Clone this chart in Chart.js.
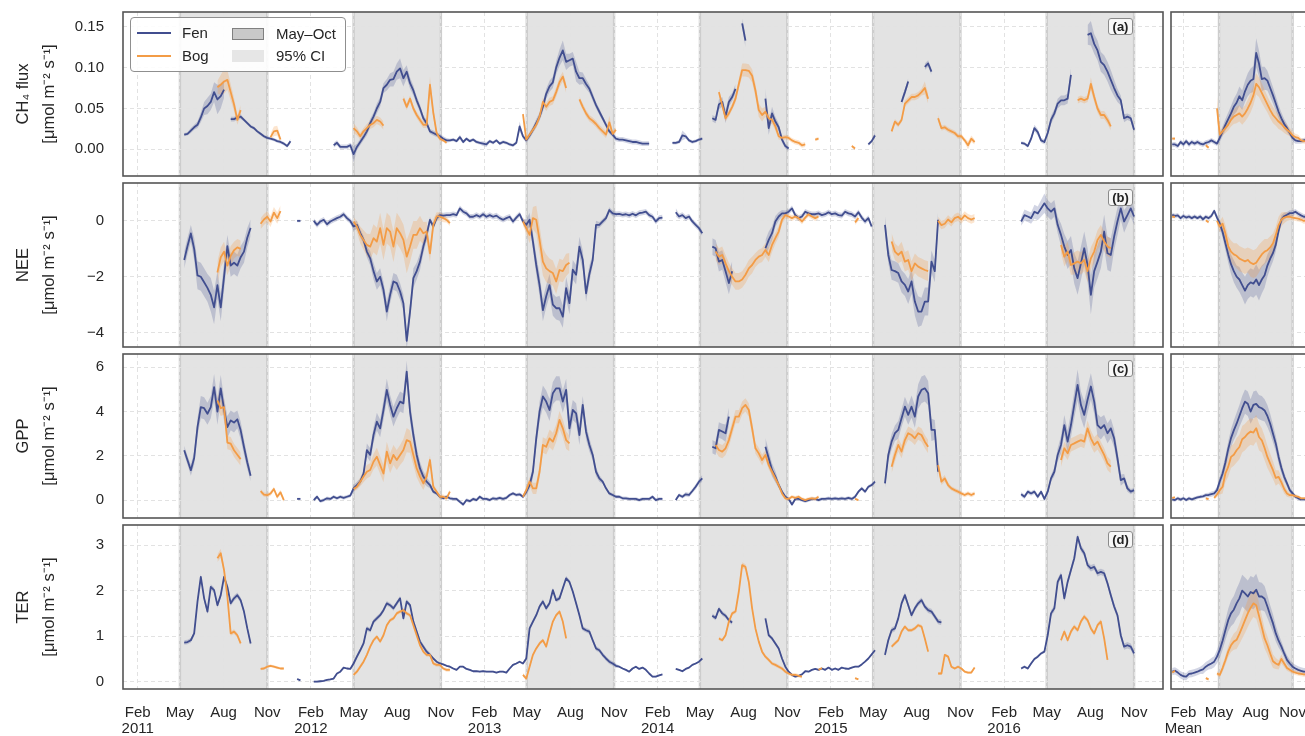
<!DOCTYPE html>
<html>
<head>
<meta charset="utf-8">
<script src="https://cdn.jsdelivr.net/npm/chart.js@4.4.1/dist/chart.umd.min.js"></script>
<style>
  html, body { margin: 0; padding: 0; background: #fff; overflow: hidden; width: 1305px; height: 736px; }
  #fig { position: relative; width: 1305px; height: 736px; overflow: hidden;
         font-family: "Liberation Sans", Arial, Helvetica, sans-serif; color: #262626; }
  #fig canvas { position: absolute; }
  .ov { position: absolute; box-sizing: border-box; }
  .lg-text { position: absolute; font-size: 15px; line-height: 18px; white-space: nowrap; color: #262626; }
  .tag { position: absolute; box-sizing: border-box; width: 25px; height: 17px; border: 1px solid #8a8a8a;
         border-radius: 3px; background: #f7f7f7; font-weight: bold; font-size: 13px; line-height: 15px;
         text-align: center; color: #222; }
</style>
</head>
<body>
<div id="fig"></div>
<script>
const _ = null;

// ---- weekly series: [first week, values]; week k is centred on day 7k+3 after 1 Jan 2011 ----
const fenCH4 = [
  [18, [0.018,0.019,0.023,0.027,0.030,0.039,0.050,0.053,0.058,0.070,0.061,0.065,0.073]],
  [32, [0.037,0.037,0.039,0.040,0.036,0.032,0.028,0.026,0.022,0.019,0.016,0.014,0.013,0.012,0.010,0.009,0.007,0.004,0.010]],
  [63, [0.005,0.008,0.003,0.003,0.003,0.005,
        -0.006,
        0.003,0.009,0.015,0.022,0.032,0.040,
        0.050,0.058,0.075,0.079,0.085,0.086,0.095,
        0.099,0.087,0.095,0.081,0.072,0.060,0.050,
        0.038,0.032,0.022,0.020,0.018,0.016,0.013,0.011,
        0.011,0.012,0.010,0.015,0.009,0.013,0.010,0.012,0.009,0.008,0.007,0.006,0.010,0.008,0.011,0.007,0.009,0.008,0.006,0.005,0.008,
        0.028,
        0.016,0.011,0.017,0.024,0.032,0.040,
        0.052,0.068,0.077,0.082,0.100,0.112,0.121,0.107,0.109,0.111,
        0.095,0.087,0.087,0.080,0.074,0.064,0.054,0.046,
        0.038,0.030,0.022,0.018,0.013,0.012,0.012,0.011,0.010,0.009,0.009,0.008,0.007,0.007,0.007]],
  [165, [0.008,0.008,0.009,0.017,0.016,0.011,0.009,0.010,0.012,0.013]],
  [177, [0.038,0.036,0.055,0.058,0.040,0.058,0.064,0.074]],
  [186, [0.154,0.133]],
  [193, [0.062,0.026,0.044,0.034,0.027,0.012,0.004,0.001]],
  [224, [0.006,0.010,0.017]],
  [234, [0.058,0.070,0.083]],
  [241, [0.101,0.105,0.095]],
  [270, [0.008,0.007,0.004,0.013,0.026,0.021,0.011,0.009,0.020,0.036,0.044,0.056,0.060,0.060,0.062,0.091]],
  [290, [0.140,0.142,0.129,0.121,0.107,0.103,0.095,0.085,0.075,0.066,0.060,0.038,0.040,0.038,0.024]]
];
const fenCH4ci = [
  [0.002,0.002,0.003,0.003,0.004,0.006,0.008,0.010,0.010,0.012,0.018,0.015,0.010],
  [0.003,0.003,0.003,0.003,0.002,0.002,0.002,0.002,0.002,0.002,0.002,0.002,0.002,0.002,0.002,0.002,0.002,0.002,0.003],
  [0.003,0.003,0.003,0.003,0.003,0.003,
   0.010,
   0.004,0.004,0.004,0.005,0.005,0.005,
   0.006,0.006,0.006,0.007,0.008,0.009,0.010,
   0.012,0.010,0.008,0.007,0.006,0.005,0.005,
   0.004,0.004,0.003,0.003,0.003,0.003,0.003,0.003,
   0.002,0.002,0.002,0.003,0.002,0.002,0.002,0.002,0.002,0.002,0.003,0.003,0.002,0.002,0.002,0.002,0.002,0.002,0.002,0.002,0.002,
   0.006,
   0.003,0.003,0.004,0.004,0.005,0.005,
   0.006,0.006,0.007,0.007,0.008,0.010,0.012,0.010,0.008,0.008,
   0.012,0.008,0.007,0.006,0.005,0.005,0.004,0.004,
   0.003,0.003,0.003,0.003,0.003,0.003,0.003,0.003,0.003,0.003,0.003,0.003,0.003,0.003,0.003],
  [0.002,0.002,0.002,0.006,0.003,0.002,0.002,0.002,0.002,0.002],
  [0.004,0.004,0.006,0.006,0.008,0.006,0.005,0.006],
  [0.006,0.008],
  [0.012,0.008,0.008,0.006,0.005,0.004,0.003,0.003],
  [0.002,0.002,0.003],
  [0.004,0.004,0.004],
  [0.004,0.004,0.004],
  [0.002,0.002,0.002,0.003,0.004,0.004,0.003,0.003,0.004,0.005,0.005,0.006,0.006,0.006,0.006,0.008],
  [0.012,0.015,0.012,0.012,0.012,0.012,0.012,0.012,0.010,0.008,0.006,0.005,0.004,0.004,0.004]
];
const bogCH4 = [
  [28, [0.076,0.079,0.083,0.085,0.070,0.055,0.036,0.048]],
  [44, [0.015,0.022,0.023,0.012]],
  [69, [0.026,0.022,0.016,0.022,0.026,0.030,0.032,0.036,0.034,0.029]],
  [84, [0.062,0.052,0.062,0.050,0.042,0.036,0.030,0.030,0.079,0.045,0.020,0.013,0.011,0.008]],
  [120, [0.043,0.012,0.018,0.024,0.030,0.040,0.058,0.052,0.058,0.060,0.070,0.082,0.089,0.075]],
  [137, [0.061,0.052,0.044,0.038,0.035,0.031,0.026,0.022,0.018,0.033,0.019,0.024]],
  [179, [0.070,0.054,0.038,0.044,0.052,0.062,0.080,0.097,0.097,0.096,0.090,0.072,0.048,0.042,0.046,0.038,0.036,0.028,0.016,0.014,0.015,0.014,0.011,0.009,0.008,0.005,0.006]],
  [208, [0.012,0.013]],
  [219, [0.004,0.001]],
  [231, [0.022,0.034,0.030,0.036,0.056,0.060,0.064,0.064,0.066,0.070,0.075,0.062]],
  [245, [0.038,0.026,0.027,0.024,0.022,0.020,0.016,0.016,0.011,0.005,0.013,0.009]],
  [287, [0.060,0.062,0.060,0.062,0.080,0.064,0.050,0.042,0.042,0.036,0.028]]
];
const bogCH4ci = [
  [0.008,0.012,0.015,0.012,0.010,0.008,0.006,0.006],
  [0.004,0.006,0.006,0.004],
  [0.006,0.005,0.004,0.004,0.005,0.005,0.005,0.005,0.005,0.005],
  [0.004,0.004,0.004,0.004,0.004,0.004,0.004,0.004,0.010,0.006,0.003,0.003,0.002,0.002],
  [0.004,0.002,0.003,0.003,0.004,0.004,0.005,0.005,0.005,0.005,0.006,0.006,0.006,0.006],
  [0.004,0.004,0.004,0.004,0.004,0.004,0.004,0.004,0.004,0.008,0.003,0.003],
  [0.004,0.004,0.004,0.004,0.004,0.005,0.006,0.008,0.008,0.008,0.008,0.008,0.008,0.008,0.006,0.006,0.005,0.005,0.004,0.003,0.003,0.003,0.003,0.003,0.003,0.003,0.003],
  [0.002,0.002],
  [0.002,0.002],
  [0.003,0.003,0.003,0.003,0.004,0.004,0.004,0.004,0.004,0.004,0.008,0.006],
  [0.004,0.003,0.003,0.003,0.003,0.003,0.003,0.003,0.003,0.005,0.004,0.003],
  [0.004,0.004,0.004,0.004,0.008,0.006,0.005,0.005,0.005,0.005,0.005]
];

const fenNEE = [
  [18, [-1.4,-0.9,-0.45,-1.0,-1.95,-2.0,-2.2,-2.4,-2.65,-3.1,-2.3,-3.1,-2.0,-0.9,-1.6,-1.5,-1.6,-1.3,-1.1,-0.6,-0.25]],
  [52, [0.0,0.0]],
  [57, [0.0,-0.14,-0.02,0.04,-0.12,-0.02,0.04,0.1,0.15,0.24,
        0.1,0.0,-0.2,-0.14,-0.44,-0.68,-1.1,-1.34,-1.8,-2.17,
        -2.0,-2.47,-3.25,-2.65,-2.17,-2.23,-2.53,-2.95,-4.3,-3.25,
        -2.05,-1.8,-1.46,-0.92,-0.5,0.04,-0.2,0.1,0.21,0.19,
        0.21,0.21,0.24,0.21,0.45,0.33,0.27,0.15,0.15,0.21,
        0.15,0.24,0.15,0.21,0.15,0.19,0.1,0.04,0.1,0.15,
        -0.02,0.12,0.24,-0.02,-0.14,0.04,-0.74,-1.58,-2.3,-3.2,
        -2.7,-2.3,-3.0,-3.13,-3.13,-3.43,-2.41,-2.95,-1.75,-1.93,
        -0.92,-1.4,-2.6,-1.9,-1.4,-0.14,-0.14,-0.02,0.1,0.39,
        0.27,0.24,0.25,0.22,0.24,0.2,0.26,0.2,0.28,0.3,
        0.33,0.21,0.15,-0.02,0.1,0.12]],
  [166, [0.31,0.16,0.21,0.1,0.16,-0.02,-0.14,-0.26,-0.44]],
  [177, [-0.92,-0.98,-1.46,-1.4,-1.8,-2.23,-1.8]],
  [193, [-0.98,-0.68,-0.44,-0.02,0.16,0.27,0.27,0.33,0.45,0.21,0.1,0.16,0.33,0.27,0.24,0.24,0.27,0.21,0.24,0.31,0.24,0.27,0.21,0.19,0.33,0.27,0.24,0.16,0.31,0.12,-0.02,0.1,-0.2]],
  [229, [-0.14,-1.22,-1.76,-1.8,-1.87,-2.17,-2.29,-2.53,-2.17,-2.89,-3.25,-3.25,-2.89,-2.89,-1.46,-1.8,0.04]],
  [270, [-0.02,0.21,0.16,0.1,0.33,0.27,0.45,0.63,0.45,0.33,0.45,-0.14,-0.5,-0.92,-1.22,-1.04,-1.7,-2.05,-1.52,-0.98,-1.58,-2.65,-1.8,-1.46,-1.1,-0.38,-1.16,-1.22,-0.56,-0.02,0.45,-0.02,0.21,0.45,0.16]]
];
const fenNEEci = [
  [0.3,0.3,0.3,0.4,0.5,0.5,0.5,0.5,0.6,0.6,0.5,0.5,0.5,0.4,0.4,0.4,0.4,0.4,0.4,0.35,0.3],
  [0.05,0.05],
  [0.1,0.1,0.1,0.1,0.1,0.1,0.1,0.1,0.1,0.1,0.1,0.1,
   0.15,0.15,0.15,0.15,
   0.2,0.25,0.3,0.3,0.3,0.3,0.35,0.3,0.3,0.3,0.3,0.3,0.3,0.3,0.35,0.3,0.3,0.25,0.2,
   0.1,0.1,0.1,0.1,0.1,0.1,0.1,0.1,0.1,0.1,0.1,0.1,0.1,0.1,0.1,0.1,0.1,0.1,0.1,0.1,0.1,0.1,0.1,0.1,0.1,0.1,0.1,0.1,0.1,
   0.2,0.25,0.3,0.35,0.4,0.4,0.4,0.4,0.4,0.4,0.45,0.4,0.4,0.4,0.35,0.35,0.35,0.35,0.3,0.3,0.2,0.15,0.1,0.1,0.1,0.1,0.1,0.1,
   0.1,0.1,0.1,0.1,0.1,0.1,0.1,0.1,0.1,0.1,0.1,0.1,0.1,0.1],
  [0.15,0.1,0.1,0.1,0.1,0.1,0.1,0.1,0.1],
  [0.3,0.3,0.35,0.35,0.4,0.4,0.35],
  [0.3,0.3,0.25,0.2,0.15,0.12,0.1,0.1,0.1,0.1,0.1,0.1,0.1,0.1,0.1,0.1,0.1,0.1,0.1,0.1,0.1,0.1,0.1,0.1,0.1,0.1,0.1,0.1,0.1,0.1,0.1,0.1,0.1],
  [0.3,0.3,0.35,0.35,0.35,0.4,0.4,0.45,0.45,0.5,0.55,0.5,0.5,0.5,0.4,0.4,0.3],
  [0.15,0.2,0.2,0.2,0.25,0.25,0.3,0.35,0.3,0.3,0.3,0.3,0.4,0.45,0.5,0.5,0.55,0.6,0.6,0.6,0.6,0.7,0.6,0.6,0.6,0.6,0.6,0.6,0.5,0.5,0.4,0.4,0.35,0.3,0.3]
];
const bogNEE = [
  [28, [-1.85,-1.3,-1.1,-1.6,-1.25,-1.05,-0.95,-1.0]],
  [41, [-0.1,0.05,0.15,-0.02,0.3,0.1,0.35]],
  [69, [-0.02,-0.2,-0.5,-0.68,-0.86,-0.92,-0.62,-0.74,-0.26,-0.86,-0.26,-0.38,-0.92,-0.26,-0.44,-0.68,-1.28,-0.92,-0.5,-0.5,-0.26,-0.44,-0.38,-1.16,-0.14,0.16,0.16,0.1,0.04,-0.08]],
  [120, [-0.02,-0.26,-0.5,0.1,0.04,-0.68,-1.46,-1.7,-1.8,-1.87,-2.17,-1.76,-1.8,-1.58,-1.5]],
  [178, [-1.1,-1.28,-1.22,-1.52,-1.8,-2.0,-2.17,-2.17,-2.1,-1.93,-1.7,-1.58,-1.4,-1.28,-1.22,-1.04,-1.22,-0.86,-0.62,-0.38,0.04,0.21,0.16,0.1,0.16,0.1,-0.02,0.12,0.24,0.16,0.1,0.16]],
  [220, [-0.05,0.1]],
  [231, [-0.74,-1.1,-1.22,-1.1,-1.46,-1.4,-1.8,-1.52,-1.64,-1.7,-1.76,-1.8]],
  [245, [0.0,-0.15,-0.1,0.05,-0.05,0.1,0.15,0.05,0.2,0.1,0.05,0.1]],
  [282, [-0.86,-1.28,-1.1,-1.58,-1.52,-1.46,-1.52,-1.4,-1.8,-1.34,-1.1,-0.68,-0.5,-0.74,-0.92,-0.98]]
];
const bogNEEci = [
  [0.4,0.35,0.35,0.35,0.35,0.3,0.3,0.3],
  [0.2,0.2,0.2,0.2,0.2,0.2,0.2],
  [0.15,0.2,0.3,0.35,0.4,0.45,0.5,0.5,0.55,0.55,0.55,0.55,0.55,0.55,0.55,0.55,0.6,0.55,0.5,0.5,0.45,0.4,0.35,0.3,0.2,0.15,0.15,0.15,0.1,0.1],
  [0.15,0.2,0.3,0.4,0.5,0.5,0.5,0.5,0.45,0.45,0.45,0.4,0.4,0.4,0.35],
  [0.3,0.3,0.3,0.3,0.3,0.3,0.3,0.3,0.3,0.3,0.3,0.3,0.25,0.25,0.25,0.25,0.25,0.25,0.2,0.2,0.15,0.12,0.1,0.1,0.1,0.1,0.1,0.1,0.1,0.1,0.1,0.1],
  [0.1,0.1],
  [0.3,0.3,0.3,0.35,0.35,0.35,0.35,0.35,0.35,0.35,0.35,0.35],
  [0.15,0.15,0.15,0.15,0.15,0.15,0.15,0.15,0.15,0.15,0.15,0.15],
  [0.3,0.35,0.35,0.35,0.4,0.4,0.4,0.4,0.4,0.4,0.4,0.35,0.35,0.35,0.35,0.35]
];

const fenGPP = [
  [18, [2.25,1.8,1.35,1.9,3.3,4.2,4.15,3.9,4.2,5.1,4.0,5.05,4.1,3.3,3.6,3.5,3.65,3.15,2.4,1.7,1.1]],
  [52, [0.05,0.05]],
  [57, [0.0,0.15,-0.05,0.0,0.08,0.05,0.15,0.08,0.15,0.1,
        0.15,0.2,0.53,0.68,0.83,1.2,2.26,2.04,2.94,3.54,
        3.24,4.07,4.98,4.3,3.77,4.15,4.45,4.37,5.8,4.0,
        2.94,2.04,1.43,1.06,0.83,0.68,0.38,0.3,0.15,0.08,
        0.15,0.08,0.05,0.05,-0.08,-0.2,0.0,-0.05,0.05,0.0,
        0.15,0.05,0.05,0.0,0.08,0.05,0.1,0.05,0.1,0.23,
        0.3,0.23,0.26,0.15,0.38,0.68,1.28,2.79,4.0,4.68,
        4.45,4.07,4.83,5.05,5.05,4.45,4.98,3.24,4.07,3.92,
        2.94,4.3,3.09,2.49,2.04,1.28,0.98,0.83,0.53,0.3,
        0.23,0.15,0.15,0.08,0.08,0.05,0.05,0.05,0.0,0.05,
        0.05,0.05,0.15,0.0,0.05,0.05]],
  [166, [0.0,0.23,0.15,0.26,0.23,0.41,0.6,0.83,0.98]],
  [177, [2.41,2.34,3.17,3.1,3.02,3.77]],
  [193, [2.41,1.89,1.36,1.06,0.68,0.38,0.15,0.05,-0.2,0.05,0.05,0.0,-0.05,0.0,0.05,0.05,0.0,0.05,0.05,0.08,0.05,0.08,0.05,0.08,0.05,0.1,0.05,0.15,0.38,0.53,0.38,0.6,0.68,0.83]],
  [229, [0.75,2.04,2.64,3.02,3.17,3.7,4.22,3.85,4.22,3.77,4.68,4.98,5.05,4.83,3.17,3.17,1.28]],
  [270, [0.26,0.15,0.38,0.3,0.38,0.15,0.38,0.05,0.38,0.98,1.28,2.04,2.49,3.39,2.64,3.39,4.3,5.2,4.3,3.85,4.53,5.13,4.45,3.39,3.24,3.39,3.02,3.24,2.79,1.89,0.9,0.98,0.53,0.38,0.45]]
];
const fenGPPci = [
  [0.2,0.2,0.25,0.3,0.4,0.5,0.5,0.5,0.5,0.6,0.6,0.6,0.5,0.5,0.45,0.45,0.4,0.4,0.35,0.3,0.25],
  [0.05,0.05],
  [0.08,0.08,0.08,0.08,0.08,0.08,0.08,0.08,0.08,0.08,0.08,0.08,
   0.15,0.15,0.15,0.15,
   0.3,0.3,0.35,0.4,0.4,0.45,0.5,0.45,0.45,0.45,0.45,0.45,0.5,0.45,0.4,0.35,0.3,0.25,0.2,0.15,
   0.08,0.08,0.08,0.08,0.08,0.08,0.08,0.08,0.08,0.08,0.08,0.08,0.08,0.08,0.08,0.08,0.08,0.08,0.08,0.08,0.08,0.08,0.08,0.08,0.08,0.08,0.08,0.08,
   0.15,0.2,0.3,0.4,0.45,0.5,0.5,0.5,0.5,0.55,0.55,0.5,0.5,0.5,0.45,0.45,0.45,0.4,0.35,0.3,0.25,0.2,0.15,0.1,0.08,0.08,0.08,0.08,
   0.08,0.08,0.08,0.08,0.08,0.08,0.08,0.08,0.08,0.08,0.08,0.08,0.08,0.08],
  [0.08,0.08,0.08,0.1,0.1,0.1,0.12,0.12,0.15],
  [0.3,0.3,0.35,0.35,0.4,0.4],
  [0.4,0.35,0.3,0.25,0.15,0.1,0.08,0.08,0.08,0.08,0.08,0.08,0.08,0.08,0.08,0.08,0.08,0.08,0.08,0.08,0.08,0.08,0.08,0.08,0.08,0.08,0.08,0.08,0.08,0.08,0.08,0.08,0.08,0.08],
  [0.2,0.3,0.35,0.35,0.4,0.4,0.45,0.45,0.5,0.5,0.55,0.6,0.6,0.55,0.5,0.45,0.35],
  [0.1,0.1,0.1,0.1,0.1,0.1,0.1,0.1,0.12,0.15,0.2,0.3,0.4,0.45,0.5,0.55,0.6,0.7,0.6,0.6,0.6,0.6,0.55,0.5,0.5,0.45,0.45,0.45,0.4,0.35,0.25,0.2,0.15,0.12,0.1]
];
const bogGPP = [
  [28, [4.5,4.15,4.2,2.6,2.55,2.25,2.05,1.85]],
  [41, [0.4,0.25,0.22,0.3,0.5,0.15,0.35,0.0]],
  [69, [0.5,0.6,0.83,1.06,1.28,1.36,1.73,1.96,1.58,1.2,2.19,1.66,2.04,1.81,2.04,2.26,2.71,2.64,2.04,1.43,1.06,0.75,1.06,1.81,0.6,0.38,0.15,0.15,0.08,0.38]],
  [120, [0.15,0.45,0.83,0.53,0.53,1.28,2.49,2.41,2.79,2.64,3.02,3.62,3.24,2.71,2.56]],
  [178, [2.49,2.26,2.19,2.34,2.71,3.24,3.77,3.77,4.15,4.3,4.07,3.24,2.34,2.11,1.81,2.04,1.58,1.28,0.98,0.68,0.3,0.08,0.05,0.15,0.1,0.15,0.05,0.0,0.05,0.08,0.05,0.15]],
  [220, [0.05,0.0]],
  [231, [1.51,2.04,2.49,2.19,2.71,3.02,2.94,2.79,3.02,2.94,2.64,2.41]],
  [245, [1.58,0.83,0.98,0.68,0.53,0.45,0.38,0.3,0.23,0.3,0.23,0.3]],
  [282, [1.81,2.34,2.11,2.49,2.56,2.64,2.71,2.64,3.24,2.79,2.49,2.64,2.34,2.04,1.66,1.51]]
];
const bogGPPci = [
  [0.35,0.35,0.35,0.3,0.3,0.3,0.3,0.3],
  [0.1,0.1,0.1,0.1,0.1,0.1,0.1,0.1],
  [0.1,0.15,0.2,0.25,0.3,0.3,0.35,0.4,0.4,0.4,0.45,0.45,0.45,0.45,0.45,0.5,0.55,0.5,0.45,0.4,0.35,0.3,0.25,0.2,0.15,0.1,0.1,0.1,0.1,0.1],
  [0.1,0.15,0.2,0.25,0.25,0.3,0.35,0.35,0.4,0.4,0.4,0.4,0.4,0.4,0.35],
  [0.3,0.3,0.3,0.3,0.3,0.3,0.3,0.3,0.3,0.3,0.3,0.3,0.25,0.25,0.25,0.2,0.2,0.15,0.15,0.1,0.1,0.08,0.08,0.08,0.08,0.08,0.08,0.08,0.08,0.08,0.08,0.08],
  [0.05,0.05],
  [0.3,0.3,0.3,0.3,0.3,0.3,0.3,0.3,0.3,0.3,0.3,0.3],
  [0.2,0.15,0.15,0.12,0.1,0.1,0.1,0.1,0.1,0.1,0.1,0.1],
  [0.3,0.3,0.3,0.3,0.3,0.3,0.3,0.3,0.35,0.35,0.35,0.35,0.3,0.3,0.3,0.3]
];

const fenTER = [
  [18, [0.86,0.87,0.91,1.06,1.76,2.3,1.83,1.54,2.08,2.01,1.68,1.9,2.3,2.08,1.72,1.83,1.9,1.79,1.54,1.17,0.84]],
  [52, [0.06,0.03]],
  [57, [0.0,0.0,0.01,0.02,0.04,0.05,0.07,0.18,0.22,0.31,
        0.29,0.28,0.4,0.55,0.69,0.84,1.17,1.13,1.32,1.39,
        1.46,1.57,1.72,1.68,1.61,1.72,1.83,1.39,1.76,1.68,
        1.32,1.1,0.88,0.77,0.66,0.59,0.51,0.44,0.4,0.38,
        0.35,0.33,0.29,0.26,0.33,0.33,0.28,0.26,0.23,0.23,
        0.22,0.23,0.22,0.22,0.22,0.2,0.22,0.22,0.2,0.29,
        0.37,0.4,0.44,0.4,0.51,1.17,1.32,1.46,1.65,1.76,
        1.61,1.72,2.01,1.79,1.83,2.05,2.27,2.19,1.98,1.72,
        1.46,1.17,1.13,1.1,0.91,0.73,0.69,0.59,0.51,0.44,
        0.4,0.35,0.33,0.29,0.26,0.22,0.29,0.33,0.28,0.31,
        0.26,0.18,0.11,0.11,0.14,0.16]],
  [166, [0.28,0.26,0.23,0.28,0.31,0.37,0.4,0.44,0.51]],
  [177, [1.45,1.4,1.6,1.5,1.45,1.35,1.3]],
  [193, [1.39,1.02,0.95,0.84,0.73,0.51,0.33,0.22,0.15,0.11,0.13,0.16,0.23,0.22,0.26,0.28,0.26,0.29,0.26,0.31,0.26,0.29,0.26,0.31,0.29,0.28,0.31,0.33,0.33,0.38,0.44,0.51,0.6,0.69]],
  [229, [0.59,0.91,1.13,1.17,1.39,1.72,1.9,1.68,1.46,1.61,1.72,1.79,1.65,1.57,1.54,1.43,1.32,1.3]],
  [270, [0.29,0.33,0.29,0.4,0.5,0.55,0.62,0.66,1.02,1.5,1.61,2.19,2.34,1.83,2.19,2.45,2.71,3.18,2.93,2.82,2.56,2.49,2.52,2.38,2.41,2.38,2.16,1.9,1.65,1.46,1.02,0.77,0.8,0.77,0.62]]
];
const fenTERci = [
  [0.05,0.05,0.05,0.05,0.06,0.06,0.06,0.06,0.06,0.06,0.06,0.06,0.06,0.06,0.06,0.06,0.06,0.06,0.05,0.05,0.05],
  [0.02,0.02],
  [0.02,0.02,0.02,0.02,0.02,0.02,0.02,0.02,0.02,0.02,0.02,0.02,
   0.05,0.05,0.05,0.05,0.05,0.05,0.05,0.05,0.05,0.05,0.05,0.05,0.05,0.05,0.05,0.05,0.05,0.05,0.05,0.05,0.05,0.05,0.05,0.05,
   0.02,0.02,0.02,0.02,0.02,0.02,0.02,0.02,0.02,0.02,0.02,0.02,0.02,0.02,0.02,0.02,0.02,0.02,0.02,0.02,0.02,0.02,0.02,0.02,0.02,0.02,0.02,0.02,
   0.05,0.05,0.05,0.05,0.05,0.05,0.05,0.05,0.05,0.05,0.05,0.05,0.05,0.05,0.05,0.05,0.05,0.05,0.05,0.05,0.05,0.05,0.05,0.05,0.05,0.05,0.05,0.05,
   0.02,0.02,0.02,0.02,0.02,0.02,0.02,0.02,0.02,0.02,0.02,0.02,0.02,0.02],
  [0.02,0.02,0.02,0.02,0.02,0.02,0.02,0.02,0.02],
  [0.05,0.05,0.05,0.05,0.05,0.05,0.05],
  [0.04,0.04,0.04,0.04,0.04,0.04,0.02,0.02,0.02,0.02,0.02,0.02,0.02,0.02,0.02,0.02,0.02,0.02,0.02,0.02,0.02,0.02,0.02,0.02,0.02,0.02,0.02,0.02,0.02,0.02,0.02,0.02,0.02,0.02],
  [0.06,0.06,0.06,0.06,0.06,0.06,0.06,0.06,0.06,0.06,0.06,0.06,0.06,0.06,0.06,0.06,0.06,0.06],
  [0.03,0.03,0.03,0.03,0.03,0.03,0.03,0.03,0.07,0.07,0.07,0.07,0.07,0.07,0.07,0.07,0.07,0.07,0.07,0.07,0.07,0.07,0.07,0.07,0.07,0.07,0.07,0.07,0.07,0.07,0.07,0.07,0.07,0.07,0.07]
];
const bogTER = [
  [28, [2.71,2.82,2.45,1.87,1.06,1.1,1.02,0.84]],
  [41, [0.28,0.29,0.33,0.35,0.33,0.31,0.29,0.29]],
  [69, [0.15,0.22,0.33,0.44,0.59,0.77,0.91,0.99,0.88,1.02,1.24,1.35,1.39,1.5,1.54,1.57,1.5,1.46,1.24,1.02,0.8,0.66,0.59,0.59,0.4,0.37,0.37,0.29,0.26,0.26]],
  [120, [0.15,0.07,0.33,0.59,0.73,0.84,0.91,0.77,1.06,1.32,1.46,1.54,1.32,0.95]],
  [179, [0.95,0.91,1.02,1.32,1.5,1.54,1.98,2.56,2.52,2.19,1.61,1.17,0.88,0.66,0.55,0.48,0.4,0.37,0.33,0.29,0.22,0.18,0.15,0.15,0.13,0.11]],
  [209, [0.26,0.3]],
  [220, [0.08,0.05]],
  [231, [0.77,0.84,0.91,1.1,1.21,1.13,1.13,1.17,1.24,1.21,0.95,0.66]],
  [245, [0.18,0.18,0.59,0.55,0.33,0.29,0.33,0.29,0.22,0.2,0.2,0.31]],
  [282, [0.91,1.1,0.91,1.1,1.21,1.13,1.32,1.43,1.35,1.17,1.06,1.24,1.32,0.95,0.48]]
];
const bogTERci = [
  [0.08,0.1,0.08,0.06,0.05,0.05,0.05,0.05],
  [0.03,0.03,0.03,0.03,0.03,0.03,0.03,0.03],
  [0.04,0.04,0.04,0.04,0.04,0.04,0.04,0.04,0.04,0.04,0.04,0.04,0.04,0.04,0.04,0.04,0.04,0.04,0.04,0.04,0.04,0.04,0.04,0.04,0.04,0.04,0.04,0.04,0.04,0.04],
  [0.04,0.04,0.04,0.04,0.04,0.04,0.04,0.04,0.04,0.04,0.04,0.04,0.04,0.04],
  [0.04,0.04,0.04,0.04,0.04,0.04,0.04,0.06,0.06,0.05,0.04,0.04,0.04,0.04,0.04,0.04,0.04,0.04,0.04,0.04,0.04,0.04,0.04,0.04,0.04,0.04],
  [0.02,0.02],
  [0.02,0.02],
  [0.04,0.04,0.04,0.04,0.04,0.04,0.04,0.04,0.04,0.04,0.04,0.04],
  [0.03,0.03,0.03,0.03,0.03,0.03,0.03,0.03,0.03,0.03,0.03,0.03],
  [0.05,0.05,0.05,0.05,0.05,0.05,0.05,0.05,0.05,0.05,0.05,0.05,0.05,0.05,0.05]
];

// ---- mean annual cycle: 52 weekly values, week j centred on day 7j+3 ----
const meanFenCH4 = [0.006,0.006,0.004,0.009,0.006,0.010,0.006,0.009,0.007,0.009,
  0.007,0.006,0.008,0.009,0.011,0.009,0.007,0.014,0.022,0.030,
  0.037,0.044,0.052,0.057,0.065,0.060,0.071,0.079,0.084,0.086,
  0.118,0.105,0.086,0.087,0.084,0.075,0.066,0.056,0.046,0.038,
  0.031,0.026,0.020,0.014,0.011,0.010,0.010,0.011,0.012,0.012,0.011,0.011];
const meanFenCH4ci = [0.003,0.003,0.003,0.003,0.003,0.003,0.003,0.003,0.003,0.003,
  0.003,0.003,0.003,0.003,0.003,0.003,0.003,0.005,0.006,0.007,
  0.008,0.009,0.010,0.011,0.012,0.012,0.013,0.014,0.015,0.016,
  0.018,0.016,0.015,0.014,0.012,0.011,0.010,0.009,0.008,0.007,
  0.006,0.005,0.004,0.004,0.004,0.003,0.003,0.003,0.003,0.003,0.003,0.003];
const meanBogCH4 = [0.013,0.013,_,_,_,_,_,_,_,_,
  _,_,0.005,0.002,_,_,0.050,0.018,0.022,0.026,
  0.030,0.036,0.040,0.042,0.044,0.040,0.044,0.050,0.057,0.066,
  0.080,0.076,0.069,0.062,0.055,0.048,0.042,0.038,0.034,0.031,
  0.027,0.024,0.021,0.017,0.015,0.014,0.011,0.010,0.010,0.011,0.011,0.011];
const meanBogCH4ci = [0.002,0.002,_,_,_,_,_,_,_,_,
  _,_,0.002,0.002,_,_,0.015,0.004,0.005,0.006,
  0.007,0.008,0.009,0.010,0.010,0.010,0.010,0.011,0.012,0.012,
  0.013,0.012,0.012,0.011,0.010,0.010,0.010,0.009,0.009,0.008,
  0.007,0.006,0.005,0.005,0.004,0.004,0.003,0.003,0.003,0.003,0.003,0.003];

const meanFenNEE = [0.22,0.18,0.2,0.1,0.18,0.12,0.16,0.1,0.16,0.1,
  0.16,0.06,0.15,0.1,0.18,0.36,0.12,-0.1,-0.4,-0.8,
  -1.2,-1.55,-1.8,-2.0,-2.1,-2.3,-2.5,-2.3,-2.2,-2.25,
  -2.1,-2.3,-2.1,-1.95,-1.6,-1.35,-1.15,-0.85,-0.35,0.05,
  0.17,0.22,0.28,0.28,0.33,0.26,0.2,0.15,0.15,0.15,0.15,0.15];
const meanFenNEEci = [0.08,0.08,0.08,0.08,0.08,0.08,0.08,0.08,0.08,0.08,
  0.08,0.08,0.08,0.08,0.08,0.08,0.1,0.15,0.2,0.25,
  0.3,0.35,0.4,0.4,0.45,0.45,0.5,0.5,0.5,0.5,
  0.55,0.55,0.5,0.45,0.4,0.35,0.3,0.25,0.2,0.15,
  0.12,0.1,0.1,0.1,0.1,0.1,0.1,0.1,0.1,0.1,0.1,0.1];
const meanBogNEE = [0.15,0.15,_,_,_,_,_,_,_,_,
  _,_,0.02,-0.05,_,_,0.0,-0.2,-0.1,-0.45,
  -0.9,-1.1,-1.2,-1.25,-1.35,-1.4,-1.45,-1.4,-1.5,-1.55,
  -1.5,-1.35,-1.2,-1.1,-1.05,-0.95,-0.8,-0.5,-0.15,0.05,
  0.12,0.15,0.15,0.12,0.1,0.08,0.05,0.0,0.02,0.05,0.05,0.05];
const meanBogNEEci = [0.05,0.05,_,_,_,_,_,_,_,_,
  _,_,0.05,0.05,_,_,0.15,0.2,0.25,0.3,
  0.35,0.4,0.4,0.45,0.45,0.45,0.45,0.45,0.5,0.5,
  0.5,0.5,0.45,0.45,0.4,0.4,0.35,0.3,0.3,0.25,
  0.2,0.15,0.12,0.1,0.1,0.1,0.1,0.1,0.1,0.1,0.1,0.1];

const meanFenGPP = [0.03,0.0,0.08,0.02,0.08,0.0,0.08,0.03,0.08,0.12,
  0.15,0.17,0.22,0.23,0.27,0.3,0.45,0.85,1.2,1.7,
  2.3,2.8,3.15,3.45,3.8,4.15,4.45,4.35,4.0,4.3,
  4.35,4.2,4.15,4.05,3.8,3.45,3.0,2.55,1.95,1.45,
  1.05,0.75,0.45,0.3,0.15,0.08,0.03,0.03,0.05,0.03,0.05,0.05];
const meanFenGPPci = [0.08,0.08,0.08,0.08,0.08,0.08,0.08,0.08,0.08,0.08,
  0.08,0.08,0.1,0.1,0.12,0.12,0.15,0.2,0.25,0.3,
  0.35,0.4,0.45,0.5,0.5,0.55,0.55,0.55,0.55,0.6,
  0.6,0.55,0.55,0.5,0.5,0.45,0.4,0.35,0.3,0.25,
  0.2,0.15,0.12,0.1,0.1,0.08,0.08,0.08,0.08,0.08,0.08,0.08];
const meanBogGPP = [0.1,0.12,_,_,_,_,_,_,_,_,
  _,_,0.08,0.04,_,0.1,0.25,0.45,0.6,1.2,
  1.5,1.95,2.05,2.25,2.4,2.75,2.85,3.0,3.1,3.05,
  3.25,2.85,2.7,2.35,1.95,1.65,1.35,1.0,1.05,0.8,
  0.5,0.3,0.22,0.22,0.18,0.15,0.08,0.08,0.08,0.06,0.05,0.05];
const meanBogGPPci = [0.05,0.05,_,_,_,_,_,_,_,_,
  _,_,0.05,0.05,_,0.08,0.12,0.2,0.3,0.4,
  0.45,0.5,0.5,0.55,0.55,0.6,0.6,0.6,0.6,0.6,
  0.6,0.6,0.55,0.55,0.5,0.45,0.4,0.35,0.3,0.25,
  0.2,0.15,0.1,0.1,0.08,0.08,0.06,0.06,0.06,0.06,0.06,0.06];

const meanFenTER = [0.22,0.24,0.2,0.15,0.12,0.11,0.17,0.18,0.2,0.22,
  0.25,0.27,0.33,0.37,0.4,0.44,0.55,0.7,0.9,1.13,
  1.35,1.5,1.58,1.72,1.83,2.0,1.94,1.87,1.97,1.94,
  2.02,1.87,1.87,1.82,1.65,1.46,1.28,1.06,0.9,0.77,
  0.62,0.48,0.4,0.33,0.29,0.26,0.24,0.22,0.22,0.22,0.22,0.22];
const meanFenTERci = [0.08,0.08,0.08,0.08,0.08,0.08,0.08,0.08,0.08,0.08,
  0.08,0.1,0.1,0.1,0.12,0.12,0.15,0.18,0.2,0.22,
  0.25,0.28,0.3,0.32,0.35,0.35,0.35,0.35,0.35,0.35,
  0.35,0.32,0.3,0.28,0.25,0.22,0.2,0.18,0.15,0.12,
  0.1,0.1,0.08,0.08,0.08,0.08,0.08,0.08,0.08,0.08,0.08,0.08];
const meanBogTER = [0.2,0.24,_,_,_,_,_,_,_,_,
  _,_,0.08,0.05,_,_,0.18,0.15,0.3,0.47,
  0.66,0.8,0.88,0.92,1.05,1.2,1.35,1.5,1.62,1.72,
  1.68,1.45,1.2,0.95,0.8,0.62,0.45,0.4,0.37,0.5,
  0.4,0.3,0.26,0.22,0.2,0.18,0.17,0.16,0.16,0.16,0.16,0.16];
const meanBogTERci = [0.03,0.03,_,_,_,_,_,_,_,_,
  _,_,0.03,0.03,_,_,0.05,0.05,0.08,0.1,
  0.12,0.15,0.18,0.2,0.22,0.25,0.28,0.3,0.3,0.3,
  0.3,0.28,0.25,0.22,0.2,0.18,0.15,0.12,0.1,0.1,
  0.08,0.06,0.05,0.05,0.05,0.05,0.05,0.05,0.05,0.05,0.05,0.05];

// ---- axis labels ----
const years = [2011, 2012, 2013, 2014, 2015, 2016];
const tickMonthNames = ['Feb', 'May', 'Aug', 'Nov'];
const tickMonthIndex = [1, 4, 7, 10];
const meanTickDays = [31, 120, 212, 304];
const meanTickLabels = [['Feb', 'Mean'], 'May', 'Aug', 'Nov'];
const unitLine = '[\u03BCmol m\u207B\u00B2 s\u207B\u00B9]';
const yTitles = [['CH\u2084 flux', unitLine], ['NEE', unitLine], ['GPP', unitLine], ['TER', unitLine]];
const yTickValues = [[0, 0.05, 0.10, 0.15], [-4, -2, 0], [0, 2, 4, 6], [0, 1, 2, 3]];
const panelTags = ['(a)', '(b)', '(c)', '(d)'];

// ---- layout and style ----
const FEN = '#414e8f', BOG = '#f39c46';
const FEN_BAND = 'rgba(65,78,143,0.24)', BOG_BAND = 'rgba(243,156,70,0.26)';
const SHADE = '#e3e3e3', SHADE_EDGE = '#cdcdcd';
const GRID = '#e2e2e2', FRAME = '#555555', TEXT = '#262626';
const yLimits = [[-0.0326, 0.168], [-4.52, 1.36], [-0.81, 6.6], [-0.16, 3.44]];
const panelTop = [12, 183, 354, 525];
const panelH = 164;

Chart.defaults.font.family = '"Liberation Sans", Arial, Helvetica, sans-serif';
Chart.defaults.color = TEXT;
Chart.defaults.animation = false;

const DAY0 = Date.UTC(2011, 0, 1);
const dayOf = (y, m) => (Date.UTC(y, m, 1) - DAY0) / 864e5;

// weekly segments -> {x,y} points (x in days), with a null between segments
function segPoints(segs, cis, sign) {
  const pts = [];
  segs.forEach(([start, vals], s) => {
    vals.forEach((v, k) => {
      const off = cis ? sign * cis[s][k] : 0;
      pts.push({ x: 7 * (start + k) + 3, y: v + off });
    });
    pts.push({ x: 7 * (start + vals.length - 1) + 6.5, y: null });
  });
  return pts;
}
function meanPoints(vals, cis, sign) {
  return vals.map((v, j) => ({
    x: 7 * j + 3,
    y: v === null ? null : v + (cis ? sign * (cis[j] || 0) : 0)
  }));
}

function datasets(conv, fen, fenCi, bog, bogCi) {
  const band = (data, fill, color, order) => ({
    data, fill, backgroundColor: color, borderWidth: 0, pointRadius: 0, order, spanGaps: false
  });
  const line = (data, color, order) => ({
    data, borderColor: color, borderWidth: 1.8, pointRadius: 0, fill: false, order,
    spanGaps: false, borderJoinStyle: 'round', tension: 0
  });
  return [
    band(conv(fen, fenCi, -1), false, 'transparent', 6),
    band(conv(fen, fenCi, 1), '-1', FEN_BAND, 5),
    band(conv(bog, bogCi, -1), false, 'transparent', 4),
    band(conv(bog, bogCi, 1), '-1', BOG_BAND, 3),
    line(conv(fen, null, 0), FEN, 2),
    line(conv(bog, null, 0), BOG, 1)
  ];
}

// May–Oct shading underneath everything, frame on top
const panelDecor = {
  id: 'panelDecor',
  beforeDraw(chart, args, opts) {
    const { ctx, chartArea: a, scales: { x } } = chart;
    ctx.save();
    ctx.beginPath();
    ctx.rect(a.left, a.top, a.width, a.height);
    ctx.clip();
    opts.spans.forEach(([s, e]) => {
      const x0 = x.getPixelForValue(s), x1 = x.getPixelForValue(e);
      ctx.fillStyle = SHADE;
      ctx.fillRect(x0, a.top, x1 - x0, a.height);
      ctx.strokeStyle = SHADE_EDGE;
      ctx.lineWidth = 2.4;
      ctx.beginPath();
      ctx.moveTo(x0, a.top); ctx.lineTo(x0, a.bottom);
      ctx.moveTo(x1, a.top); ctx.lineTo(x1, a.bottom);
      ctx.stroke();
    });
    ctx.restore();
  },
  afterDraw(chart) {
    const { ctx, chartArea: a } = chart;
    ctx.save();
    ctx.strokeStyle = FRAME;
    ctx.lineWidth = 1.6;
    ctx.strokeRect(a.left, a.top, a.width, a.height);
    ctx.restore();
  }
};

const fig = document.getElementById('fig');
function makeCanvas(left, top, w, h) {
  const c = document.createElement('canvas');
  c.width = w; c.height = h;
  c.style.left = left + 'px'; c.style.top = top + 'px';
  c.style.width = w + 'px'; c.style.height = h + 'px';
  fig.appendChild(c);
  return c;
}

const yTickText = [
  v => v.toFixed(2),
  v => (v < 0 ? '\u2212' + Math.abs(v) : String(v)),
  v => String(v),
  v => String(v)
];

const leftTicks = [], leftLabels = [];
years.forEach(y => tickMonthIndex.forEach((m, i) => {
  leftTicks.push(dayOf(y, m));
  leftLabels.push(i === 0 ? [tickMonthNames[i], String(y)] : tickMonthNames[i]);
}));
const leftSpans = years.map(y => [dayOf(y, 4), dayOf(y, 10)]);
const meanSpans = [[120, 304]];

const rows = [
  [fenCH4, fenCH4ci, bogCH4, bogCH4ci, meanFenCH4, meanFenCH4ci, meanBogCH4, meanBogCH4ci],
  [fenNEE, fenNEEci, bogNEE, bogNEEci, meanFenNEE, meanFenNEEci, meanBogNEE, meanBogNEEci],
  [fenGPP, fenGPPci, bogGPP, bogGPPci, meanFenGPP, meanFenGPPci, meanBogGPP, meanBogGPPci],
  [fenTER, fenTERci, bogTER, bogTERci, meanFenTER, meanFenTERci, meanBogTER, meanBogTERci]
];

// scale sizes are pinned so every panel lands on the same grid
function axisX(min, max, ticks, labels, bottomRow) {
  return {
    type: 'linear', min, max, position: 'bottom',
    afterBuildTicks: s => { s.ticks = ticks.map(v => ({ value: v })); },
    afterFit: s => {
      s.height = bottomRow ? 47 : 0;
      s.paddingLeft = 0; s.paddingRight = 0; s.paddingTop = 0; s.paddingBottom = 0;
    },
    ticks: {
      display: bottomRow, autoSkip: false, maxRotation: 0, minRotation: 0, padding: 16,
      font: { size: 15, lineHeight: 1.05 }, color: TEXT,
      callback: (v, i) => labels[i]
    },
    grid: { color: GRID, lineWidth: 1, drawTicks: false },
    border: { display: false, dash: [4, 3] }
  };
}
function axisY(r, withLabels) {
  return {
    type: 'linear', min: yLimits[r][0], max: yLimits[r][1], position: 'left',
    afterBuildTicks: s => { s.ticks = yTickValues[r].map(v => ({ value: v })); },
    afterFit: s => {
      s.width = withLabels ? 123 : 0;
      s.paddingLeft = 0; s.paddingRight = 0; s.paddingTop = 0; s.paddingBottom = 0;
    },
    ticks: { display: withLabels, padding: 19, font: { size: 15 }, color: TEXT, callback: yTickText[r] },
    grid: { color: GRID, lineWidth: 1, drawTicks: false },
    border: { display: false, dash: [4, 3] },
    title: {
      display: withLabels, text: yTitles[r], color: TEXT,
      font: { size: 16.5, lineHeight: 1.6 }, padding: { top: 10, bottom: 0 }
    }
  };
}

rows.forEach((row, r) => {
  const bottomRow = r === 3;
  const top = panelTop[r] - 4;
  const h = 4 + panelH + (bottomRow ? 47 : 4);
  const [fen, fenCi, bog, bogCi, mFen, mFenCi, mBog, mBogCi] = row;

  // full record 2011–2016
  new Chart(makeCanvas(0, top, 1170, h), {
    type: 'line',
    data: { datasets: datasets(segPoints, fen, fenCi, bog, bogCi) },
    options: {
      responsive: false, devicePixelRatio: 1,
      layout: { padding: { left: 0, right: 7, top: 4, bottom: bottomRow ? 0 : 4 }, autoPadding: false },
      scales: { x: axisX(0, 2192, leftTicks, leftLabels, bottomRow), y: axisY(r, true) },
      plugins: { legend: { display: false }, tooltip: { enabled: false }, panelDecor: { spans: leftSpans } }
    },
    plugins: [panelDecor]
  });

  // mean annual cycle (canvas starts left of its plot so the "Mean" label has room)
  new Chart(makeCanvas(1130, top, 198, h), {
    type: 'line',
    data: { datasets: datasets(meanPoints, mFen, mFenCi, mBog, mBogCi) },
    options: {
      responsive: false, devicePixelRatio: 1,
      layout: { padding: { left: 41, right: 11, top: 4, bottom: bottomRow ? 0 : 4 }, autoPadding: false },
      scales: { x: axisX(0, 365, meanTickDays, meanTickLabels, bottomRow), y: axisY(r, false) },
      plugins: { legend: { display: false }, tooltip: { enabled: false }, panelDecor: { spans: meanSpans } }
    },
    plugins: [panelDecor]
  });

  const tag = document.createElement('div');
  tag.className = 'tag';
  tag.textContent = panelTags[r];
  tag.style.left = '1108px';
  tag.style.top = (panelTop[r] + 6) + 'px';
  fig.appendChild(tag);
});

// legend in the first panel
function ov(css, text, cls) {
  const d = document.createElement('div');
  d.className = cls || 'ov';
  Object.assign(d.style, css);
  if (text) d.textContent = text;
  fig.appendChild(d);
}
ov({ left: '130px', top: '17px', width: '216px', height: '55px', border: '1.5px solid #8f8f8f',
     borderRadius: '4px', background: 'rgba(255,255,255,0.9)' });
ov({ left: '137px', top: '32px', width: '34px', height: '2px', background: FEN });
ov({ left: '137px', top: '55px', width: '34px', height: '2px', background: BOG });
ov({ left: '232px', top: '28px', width: '32px', height: '12px', background: '#c9c9c9', border: '1px solid #808080' });
ov({ left: '232px', top: '50px', width: '32px', height: '12px', background: '#e6e6e6' });
ov({ left: '182px', top: '24px' }, 'Fen', 'lg-text');
ov({ left: '182px', top: '47px' }, 'Bog', 'lg-text');
ov({ left: '276px', top: '25px' }, 'May\u2013Oct', 'lg-text');
ov({ left: '276px', top: '47px' }, '95% CI', 'lg-text');
</script>
</body>
</html>
